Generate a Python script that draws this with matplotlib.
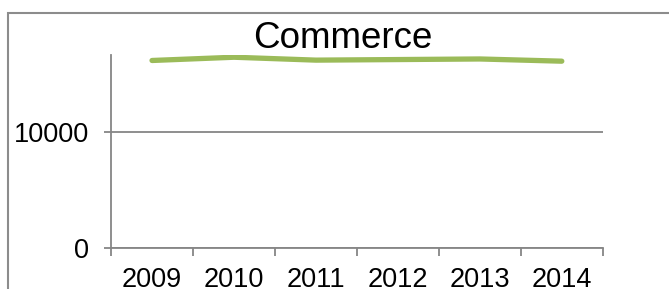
import matplotlib.pyplot as plt
from matplotlib.patches import Rectangle

plt.rcParams['font.family'] = ['Liberation Sans', 'DejaVu Sans']

# data
years = ['2009', '2010', '2011', '2012', '2013', '2014']
commerce = [16120, 16400, 16150, 16200, 16250, 16060]

fig = plt.figure(figsize=(6.69, 2.89), dpi=100)
ax = fig.add_axes([0.166, 0.143, 0.735, 0.667])

# outer chart border (open to the right/bottom, as in the crop)
fig.patches.append(Rectangle((8 / 669, -0.1), 1.2, 0.1 + 1 - 13 / 289,
                             transform=fig.transFigure, fill=False,
                             edgecolor='#8c8c8c', linewidth=1.5))

x = list(range(len(years)))
ax.plot(x, commerce, color='#9bbb59', linewidth=3.8,
        solid_capstyle='round', solid_joinstyle='round', zorder=3)

ax.set_xlim(-0.5, len(years) - 0.5)
ax.set_ylim(0, 16600)
ax.set_yticks([0, 10000])
ax.set_yticklabels(['0', '10000'])
ax.yaxis.grid(True, color='#868686', linewidth=1.3)

# category boundary ticks, labels in the middle
ax.set_xticks([i - 0.5 for i in range(len(years) + 1)])
ax.set_xticklabels([])
ax.set_xticks(x, minor=True)
ax.set_xticklabels(years, minor=True)
ax.tick_params(axis='x', which='major', length=6, width=1.3, color='#868686')
ax.tick_params(axis='x', which='minor', length=0, pad=14, labelsize=19.5)
ax.tick_params(axis='y', length=5, width=1.3, color='#868686', pad=11, labelsize=19.5)

for side in ['top', 'right']:
    ax.spines[side].set_visible(False)
for side in ['left', 'bottom']:
    ax.spines[side].set_color('#868686')
    ax.spines[side].set_linewidth(1.3)

fig.text(343 / 669, 1 - 38 / 289, 'Commerce', ha='center', va='center',
         fontsize=26.5, color='black')

fig.savefig('out.png', dpi=100)
